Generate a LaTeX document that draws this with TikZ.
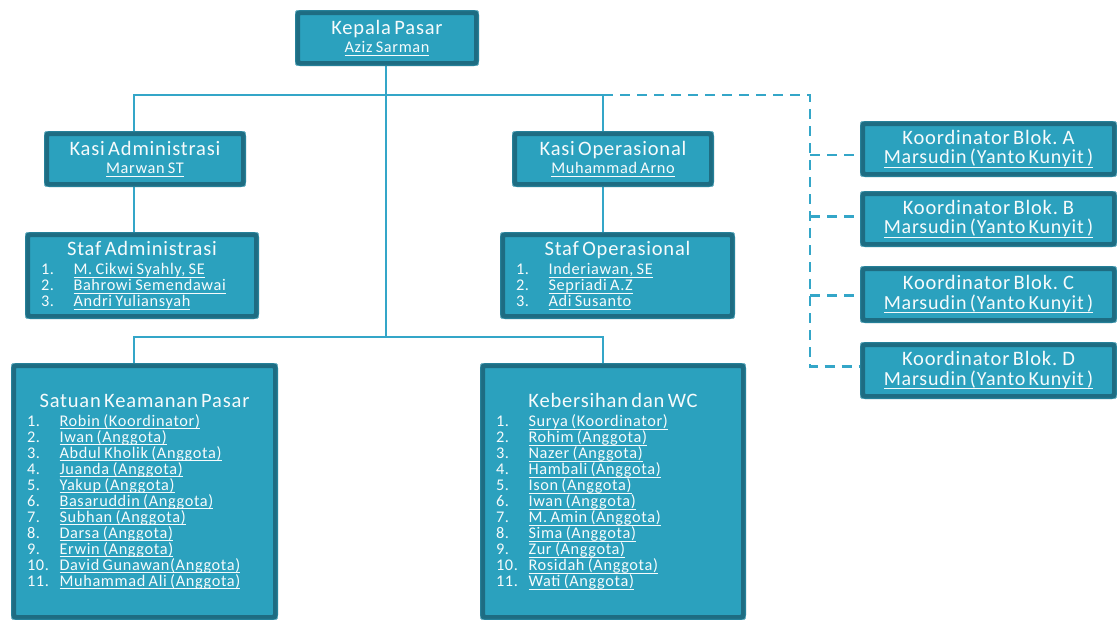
\documentclass[tikz,border=0pt]{standalone}
\usepackage{fontspec}
\setmainfont{Carlito}[LetterSpace=4]
\usetikzlibrary{backgrounds,calc}
\setlength{\parindent}{0pt}
\setlength{\parskip}{0pt}
\definecolor{bfill}{RGB}{43,161,190}
\definecolor{bdark}{RGB}{30,108,130}
\definecolor{bmid}{RGB}{42,140,166}
\definecolor{lcol}{RGB}{52,166,200}
\definecolor{btext}{RGB}{246,251,252}
\newlength\ChUlw
\newcommand\ChUl[1]{\settowidth{\ChUlw}{#1}\makebox[0pt][l]{\rule[-0.2em]{\ChUlw}{0.9pt}}#1}
\newcommand\ChTitle{\fontsize{20.5}{22}\selectfont}
\newcommand\ChSub{\fontsize{16.3}{18.5}\selectfont\lineskiplimit=-20pt}
\newcommand\ChBsub{\fontsize{20}{19.5}\selectfont\lineskiplimit=-20pt}
\newcommand\ChList{\fontsize{16.3}{16}\selectfont\lineskiplimit=-20pt}
\newcommand\ChItem[2]{\par\hspace*{13.5pt}\makebox[32.5pt][l]{#1}\ChUl{#2}}
\begin{document}
\begin{tikzpicture}[x=1pt,y=-1pt,
  box/.style={draw=bdark, line width=5pt, fill=bfill, rounded corners=3pt, inner sep=0pt, text=btext},
  smallbox/.style={box, align=center},
  inline/.style={draw=bmid, line width=0.9pt, rounded corners=1pt},
  conn/.style={draw=lcol, line width=2.2pt},
  dconn/.style={conn, dash pattern=on 10pt off 7pt}]
\useasboundingbox (0,0) rectangle (1117,619);

% boxes
\node[smallbox, text width=179pt, minimum height=51pt] (kepala) at (387,38)
  {{\ChTitle Kepala Pasar\par}\ChSub\ChUl{Aziz Sarman}\par};
\node[smallbox, text width=197pt, minimum height=51pt] (kasiadm) at (145,159)
  {{\ChTitle Kasi Administrasi\par}\ChSub\ChUl{Marwan ST}\par};
\node[smallbox, text width=197pt, minimum height=51pt] (kasiop) at (613,159)
  {{\ChTitle Kasi Operasional\par}\ChSub\ChUl{Muhammad Arno}\par};

\node[box, text width=229pt, minimum height=82pt, align=left] (stafadm) at (142,275.5)
  {{\centering\ChTitle Staf Administrasi\par}\vspace{3pt}\ChList
   \ChItem{1.}{M. Cikwi Syahly, SE}\ChItem{2.}{Bahrowi Semendawai}\ChItem{3.}{Andri Yuliansyah}\par};
\node[box, text width=230pt, minimum height=82pt, align=left] (stafop) at (617.5,275.5)
  {{\centering\ChTitle Staf Operasional\par}\vspace{3pt}\ChList
   \ChItem{1.}{Inderiawan, SE}\ChItem{2.}{Sepriadi A.Z}\ChItem{3.}{Adi Susanto}\par};

\node[box, text width=262pt, minimum height=252pt, align=left] (satuan) at (144.5,491.5)
  {{\centering\ChTitle Satuan Keamanan Pasar\par}\vspace{3pt}\ChList
   \ChItem{1.}{Robin (Koordinator)}\ChItem{2.}{Iwan (Anggota)}\ChItem{3.}{Abdul Kholik (Anggota)}
   \ChItem{4.}{Juanda (Anggota)}\ChItem{5.}{Yakup (Anggota)}\ChItem{6.}{Basaruddin (Anggota)}
   \ChItem{7.}{Subhan (Anggota)}\ChItem{8.}{Darsa (Anggota)}\ChItem{9.}{Erwin (Anggota)}
   \ChItem{10.}{David Gunawan(Anggota)}\ChItem{11.}{Muhammad Ali (Anggota)}\par};
\node[box, text width=261pt, minimum height=252pt, align=left] (keber) at (613,491.5)
  {{\centering\ChTitle Kebersihan dan WC\par}\vspace{3pt}\ChList
   \ChItem{1.}{Surya (Koordinator)}\ChItem{2.}{Rohim (Anggota)}\ChItem{3.}{Nazer (Anggota)}
   \ChItem{4.}{Hambali (Anggota)}\ChItem{5.}{Ison (Anggota)}\ChItem{6.}{Iwan (Anggota)}
   \ChItem{7.}{M. Amin (Anggota)}\ChItem{8.}{Sima (Anggota)}\ChItem{9.}{Zur (Anggota)}
   \ChItem{10.}{Rosidah (Anggota)}\ChItem{11.}{Wati (Anggota)}\par};

\node[smallbox, text width=252pt, minimum height=51pt] (blokA) at (988.5,149)
  {{\ChTitle Koordinator Blok. A\par}\ChBsub\ChUl{Marsudin (Yanto Kunyit )}\par};
\node[smallbox, text width=252pt, minimum height=51pt] (blokB) at (988.5,219)
  {{\ChTitle Koordinator Blok. B\par}\ChBsub\ChUl{Marsudin (Yanto Kunyit )}\par};
\node[smallbox, text width=252pt, minimum height=52pt] (blokC) at (988.5,294.5)
  {{\ChTitle Koordinator Blok. C\par}\ChBsub\ChUl{Marsudin (Yanto Kunyit )}\par};
\node[smallbox, text width=252pt, minimum height=52pt] (blokD) at (988.5,370.5)
  {{\ChTitle Koordinator Blok. D\par}\ChBsub\ChUl{Marsudin (Yanto Kunyit )}\par};

% inner lines of the boxes
\foreach \n in {kepala,kasiadm,kasiop,stafadm,stafop,satuan,keber,blokA,blokB,blokC,blokD}
  \draw[inline] ([shift={(0.75pt,-0.75pt)}]\n.north west) rectangle ([shift={(-0.75pt,0.75pt)}]\n.south east);

% connectors
\coordinate (busL) at (134,95);
\coordinate (busR) at (603,95);
\coordinate (busD) at (810,95);
\coordinate (low) at (386,337);
\coordinate (lowL) at (134,337);
\coordinate (lowR) at (603,337);
\coordinate (dA) at (810,155);
\coordinate (dB) at (810,216.5);
\coordinate (dC) at (810,295.5);
\coordinate (dD) at (810,366.5);
\begin{pgfonlayer}{background}
\draw[conn] (kepala.south -| low) -- (low);
\draw[conn] (busL |- kasiadm.north) -- (busL) -- (busR) -- (busR |- kasiop.north);
\draw[conn] (busL |- kasiadm.south) -- (busL |- stafadm.north);
\draw[conn] (busR |- kasiop.south) -- (busR |- stafop.north);
\draw[conn] (lowL |- satuan.north) -- (lowL) -- (lowR) -- (lowR |- keber.north);
\draw[dconn] (busR) -- (busD) -- (dD) -- (dD -| blokD.west);
\draw[dconn] (dA) -- (dA -| blokA.west);
\draw[dconn] (dB) -- (dB -| blokB.west);
\draw[dconn] (dC) -- (dC -| blokC.west);
\end{pgfonlayer}
\end{tikzpicture}
\end{document}
